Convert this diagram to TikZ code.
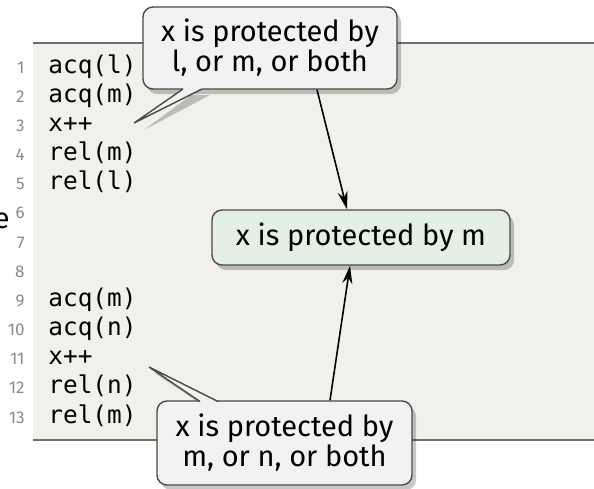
\documentclass[tikz,border=0pt]{standalone}
\usepackage{fontspec}
\setmainfont{Fira Sans}
\newfontfamily\codefont{DejaVu Sans Mono}
\usetikzlibrary{shadows,arrows.meta,calc}

\definecolor{codebg}{HTML}{F1F0EA}
\definecolor{rulegray}{HTML}{6E6E6E}
\definecolor{numgray}{HTML}{8A8A8A}
\definecolor{boxline}{HTML}{4A4A4A}
\definecolor{notefill}{HTML}{F2F2F2}
\definecolor{resultfill}{HTML}{E4F0E3}

\tikzset{
  codetext/.style={anchor=base west, inner sep=0pt, font=\codefont\fontsize{12.2}{14}\selectfont},
  linenum/.style={anchor=base east, inner sep=0pt, text=numgray, font=\fontsize{8.5}{10}\selectfont},
  boxshadow/.style={drop shadow={shadow xshift=2pt, shadow yshift=-2.5pt, opacity=0.22, fill=black}},
  notebox/.style={draw=boxline, line width=0.7pt, rounded corners=5pt, fill=notefill,
    align=center, inner sep=0pt, font=\fontsize{14.5}{15}\selectfont},
  resultbox/.style={notebox, fill=resultfill},
  notetail/.style={fill=notefill},
  tailedge/.style={draw=boxline, line width=0.7pt, line join=miter},
  tailshadow/.style={fill=black, opacity=0.22},
  link/.style={draw=black, line width=0.8pt, -{Stealth[length=9pt, width=5pt]}},
}

\begin{document}
\begin{tikzpicture}[x=0.5pt, y=-0.5pt]
  \useasboundingbox (0,0) rectangle (594,488);

  % code listing background with top and bottom rules
  \fill[codebg] (33,43) rectangle (600,440);
  \draw[rulegray, line width=0.6pt] (33,43) -- (600,43);
  \draw[rulegray, line width=0.6pt] (33,440) -- (600,440);

  % stray letter cut off at the left edge
  \node[anchor=base east, inner sep=0pt, font=\fontsize{14.5}{15}\selectfont] (edgeletter) at (10,228) {e};

  % line numbers
  \foreach \n in {1,...,13} {
    \node[linenum] (num\n) at (25, {73 + (\n-1)*29.17}) {\n};
  }

  % code lines
  \foreach \n/\t in {1/acq(l), 2/acq(m), 3/x++, 4/rel(m), 5/rel(l),
                     9/acq(m), 10/acq(n), 11/x++, 12/rel(n), 13/rel(m)} {
    \node[codetext] (code\n) at (48, {73 + (\n-1)*29.17}) {\t};
  }

  % pointer tips of the two notes
  \coordinate (tipA) at (134,123);
  \coordinate (tipB) at (149,367);

  % shadows of the pointers
  \fill[tailshadow] ([xshift=4pt,yshift=-2.5pt]183,90) -- ([xshift=5pt,yshift=-3.5pt]tipA) -- ([xshift=4pt,yshift=-2.5pt]202,90) -- cycle;
  \fill[tailshadow] ([xshift=2pt,yshift=-2.5pt]200,401) -- ([xshift=2pt,yshift=-2.5pt]tipB) -- ([xshift=2pt,yshift=-2.5pt]218,401) -- cycle;

  % the three notes
  \node[notebox, boxshadow, minimum width=127pt, minimum height=41pt] (top) at (270,48)
    {x is protected by\\ l, or m, or both};
  \node[resultbox, boxshadow, minimum width=149pt, minimum height=27.5pt] (mid) at (361,237.5)
    {x is protected by m};
  \node[notebox, boxshadow, minimum width=127.5pt, minimum height=42pt] (bot) at (284.5,443)
    {x is protected by\\ m, or n, or both};

  % pointers joining the notes to the code
  \fill[notetail] (183,87) -- (183,89) -- (tipA) -- (202,89) -- (202,87) -- cycle;
  \draw[tailedge] (183,89) -- (tipA) -- (202,89);
  \fill[notetail] (200,404) -- (200,401.5) -- (tipB) -- (218,401.5) -- (218,404) -- cycle;
  \draw[tailedge] (200,401.5) -- (tipB) -- (218,401.5);

  % arrows towards the combined result
  \draw[link] ([xshift=23.5pt]top.south) -- ([xshift=-7pt]mid.north);
  \draw[link] ([xshift=22.75pt]bot.north) -- ([xshift=-5.5pt]mid.south);
\end{tikzpicture}
\end{document}
